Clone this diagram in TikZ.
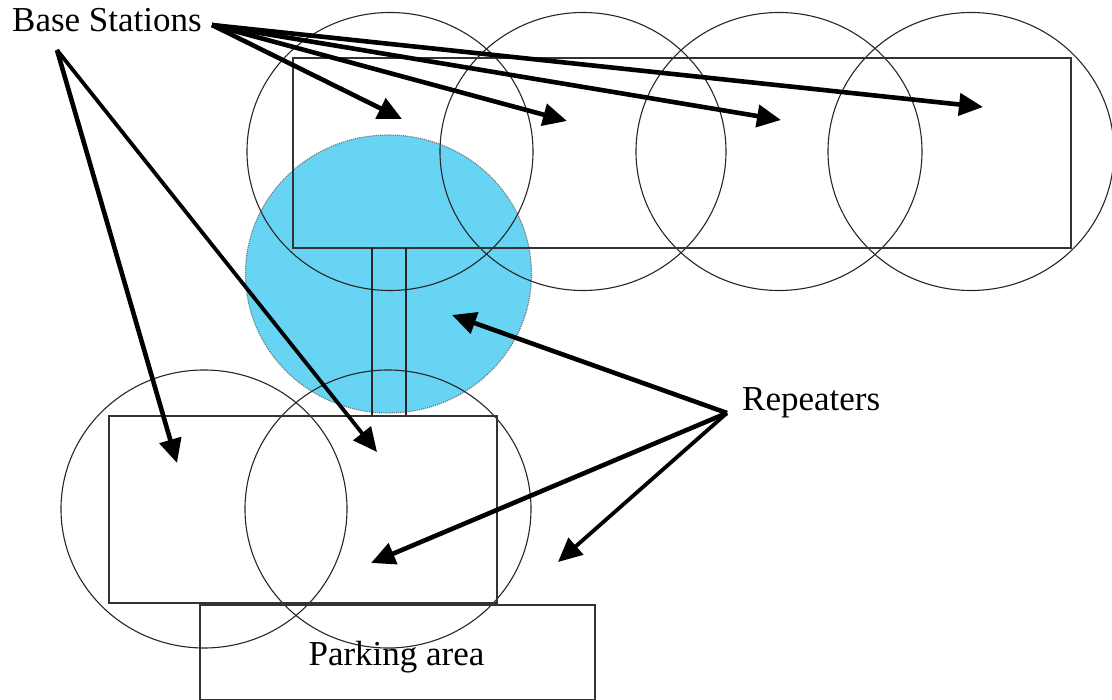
\documentclass[tikz,border=0pt]{standalone}
\usepackage{fontspec}
\setmainfont{Liberation Serif}
\usetikzlibrary{arrows.meta,shapes.geometric}
\definecolor{repblue}{RGB}{102,212,242}
\begin{document}
\begin{tikzpicture}[x=1pt,y=-1pt,
  cell/.style={ellipse,draw=black!85,line width=1.1pt,minimum width=286pt,minimum height=278pt,inner sep=0pt},
  area/.style={rectangle,draw=black!80,line width=1.8pt,inner sep=0pt,anchor=north west},
  lbl/.style={font=\fontsize{35}{42}\selectfont,inner sep=0pt,anchor=base west},
  ptr/.style={line width=4.6pt,-{Triangle[length=24pt,width=22pt]}},
  thinptr/.style={line width=3.8pt,-{Triangle[length=24pt,width=22pt]}}]
\useasboundingbox (0,0) rectangle (1112,700);
% repeater coverage
\node[cell,fill=repblue,draw=black!55,densely dotted] (rep) at (388.5,274) {};
% base station cells
\node[cell] (c1) at (390,151.5) {};
\node[cell] (c2) at (583,151.5) {};
\node[cell] (c3) at (779,151.5) {};
\node[cell] (c4) at (971,151.5) {};
\node[cell] (c5) at (204,509) {};
\node[cell] (c6) at (388,509) {};
% areas
\node[area,minimum width=778pt,minimum height=190pt] (top) at (292,57) {};
\node[area,minimum width=388pt,minimum height=187pt] (low) at (108,415) {};
\node[area,minimum width=395pt,minimum height=95pt] (park) at (199,604) {};
% corridor
\draw[black!85,line width=1.4pt] (372,247) -- (372,415);
\draw[black!85,line width=1.4pt] (406,247) -- (406,415);
% labels
\node[lbl] (bs) at (12,32) {Base Stations};
\node[lbl] (rp) at (742,411) {Repeaters};
\node[font=\fontsize{35}{42}\selectfont,inner sep=0pt,anchor=base] (pa) at (396.5,665) {Parking area};
% arrow origins and tips
\coordinate (bsR) at (212,25);
\coordinate (bsL) at (57,50);
\coordinate (rpO) at (727,413);
\coordinate (t1) at (402,119);
\coordinate (t2) at (567,121);
\coordinate (t3) at (781,120);
\coordinate (t4) at (983,107);
\coordinate (t5) at (177,463);
\coordinate (t6) at (377,452);
\coordinate (r1) at (452,315);
\coordinate (r2) at (371,563);
\coordinate (r3) at (558,562);
\draw[ptr] (bsR) -- (t1);
\draw[ptr] (bsR) -- (t2);
\draw[ptr] (bsR) -- (t3);
\draw[ptr] (bsR) -- (t4);
\draw[ptr] (bsL) -- (t5);
\draw[thinptr] (bsL) -- (t6);
\draw[ptr] (rpO) -- (r1);
\draw[ptr] (rpO) -- (r2);
\draw[thinptr] (rpO) -- (r3);
\end{tikzpicture}
\end{document}
